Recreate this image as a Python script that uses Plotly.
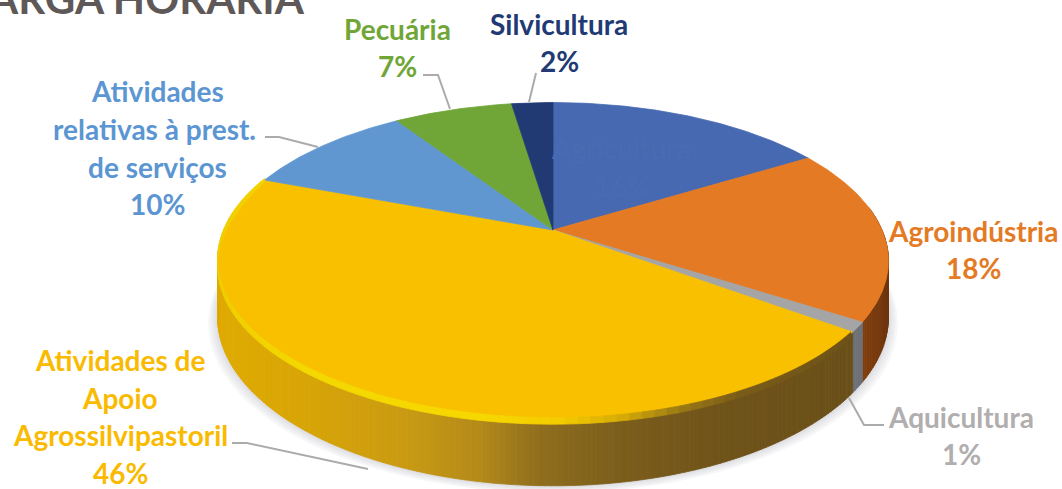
import numpy as np
import plotly.graph_objects as go

# ---- data ----
categories = ["Agricultura", "Agroindústria", "Aquicultura",
              "Atividades de Apoio Agrossilvipastoril",
              "Atividades relativas à prest. de serviços",
              "Pecuária", "Silvicultura"]
values = [16.3, 17.8, 1.0, 45.6, 10.0, 6.9, 2.4]
colors = ["#4669B1", "#E57A25", "#A5A5A5", "#F9C000", "#6097D1", "#70A637", "#213A74"]
title_text = "ARGA HORÁRIA"

# (text, colour, centre x, centre y) per label line
label_lines = [
    ("Pecuária", "#70A637", 397, 29), ("7%", "#70A637", 397, 66),
    ("Silvicultura", "#213A74", 559, 24), ("2%", "#213A74", 559, 61),
    ("Atividades", "#5B96D2", 157, 91), ("relativas à prest.", "#5B96D2", 154, 129),
    ("de serviços", "#5B96D2", 157, 167), ("10%", "#5B96D2", 157, 204),
    ("Agroindústria", "#E57A25", 973, 231), ("18%", "#E57A25", 973, 268),
    ("Aquicultura", "#B0AEAE", 961, 417), ("1%", "#B0AEAE", 961, 454),
    ("Atividades de", "#F9BA00", 120, 360), ("Apoio", "#F9BA00", 120, 398),
    ("Agrossilvipastoril", "#F9BA00", 120, 435), ("46%", "#F9BA00", 120, 473),
    ("Agricultura", "#486BB2", 621, 148), ("16%", "#486BB2", 621, 186),
]
# leader lines: elbow path per label, in page pixels
leaders = [
    [(423, 75), (438, 75), (450, 109)],
    [(536, 73), (529, 102)],
    [(265, 137), (279, 137), (318, 147)],
    [(884, 425), (864, 425), (849, 398)],
    [(232, 443), (247, 443), (368, 469)],
]

# ---- pie geometry ----
CX, CY = 553, 230
K = 0.195
A = 329.0
B = 152.3
D = 52.0


def top_xy(theta, scale=1.0):
    x, y = np.sin(theta) * scale, -np.cos(theta) * scale
    w = 1 - K * y
    return CX + A * x / w, CY + B * y / w


def depth(theta):
    y = -np.cos(theta)
    return D / (1 - K * y) + 2


def low_xy(theta):
    x, y = top_xy(theta)
    return x, y + depth(theta)


def hex2rgb(h):
    return np.array([int(h[i:i + 2], 16) for i in (1, 3, 5)], float)


def ramp(x, stops):
    xs = [s[0] for s in stops]
    rgb = [np.interp(x, xs, [hex2rgb(s[1])[c] for s in stops]) for c in range(3)]
    return "rgb(%d,%d,%d)" % tuple(rgb)


side_yellow = [(214, "#E0AB00"), (300, "#D9A606"), (400, "#CB9C12"), (480, "#B48A1A"),
               (540, "#8F6E1E"), (620, "#7C5E1C"), (720, "#70541A"), (860, "#6A4F18")]
side_orange = [(850, "#8E4611"), (885, "#70350C")]
rim_yellow = [(214, "#F0CE00"), (300, "#F5D800"), (480, "#F7D900"), (560, "#F4CC00"),
              (620, "#D8AC08"), (680, "#9A7A14"), (740, "#7A5C1A"), (860, "#6E5218")]

shares = np.array(values) / sum(values)
edges = np.concatenate([[0], np.cumsum(shares)]) * 2 * np.pi

fig = go.Figure()


def poly(xs, ys, color):
    fig.add_trace(go.Scatter(x=list(xs), y=list(ys), mode="lines", fill="toself",
                             fillcolor=color, line=dict(color=color, width=0.8),
                             hoverinfo="skip", showlegend=False))


# soft shadow beneath the pie
th = np.linspace(np.pi * 0.45, np.pi * 1.6, 120)
for grow in (9, 7, 5, 3, 1.5):
    lx, ly = low_xy(th)
    sx = CX + (lx - CX) * (1 + grow / 336)
    sy = ly + grow * 0.75
    poly(sx, sy, "rgba(175,178,190,0.09)")

# side wall
for i, (cat, col) in enumerate(zip(categories, colors)):
    a0, a1 = edges[i], edges[i + 1]
    n = max(3, int((a1 - a0) / 0.014))
    ts = np.linspace(a0, a1, n + 1)
    for t0, t1 in zip(ts[:-1], ts[1:]):
        tm = (t0 + t1) / 2
        if -np.cos(tm) < -0.15:
            continue
        xm = top_xy(tm)[0]
        if cat == "Atividades de Apoio Agrossilvipastoril":
            shade = ramp(xm, side_yellow)
        elif cat == "Agroindústria":
            shade = ramp(xm, side_orange)
        elif cat == "Aquicultura":
            shade = "#6E7278"
        else:
            shade = ramp(0.5, [(0, col), (1, "#000000")])
        x0, y0 = top_xy(t0); x1, y1 = top_xy(t1)
        x2, y2 = low_xy(t1); x3, y3 = low_xy(t0)
        poly([x0, x1, x2, x3, x0], [y0, y1, y2, y3, y0], shade)

# top face
for a0, a1, col in zip(edges[:-1], edges[1:], colors):
    ts = np.linspace(a0, a1, max(6, int((a1 - a0) / 0.01)))
    px, py = top_xy(ts)
    poly(np.r_[CX, px, CX], np.r_[CY, py, CY], col)

# bevel highlight on the front of the largest slice
i = categories.index("Atividades de Apoio Agrossilvipastoril")
ts = np.linspace(edges[i] + 0.01, edges[i + 1], 90)
for t0, t1 in zip(ts[:-1], ts[1:]):
    tm = (t0 + t1) / 2
    xm, _ = top_xy(tm)
    x0, y0 = top_xy(t0); x1, y1 = top_xy(t1)
    h0 = 5 * max(0, min(1, (-np.cos(t0) + 0.45) / 0.3))
    h1 = 5 * max(0, min(1, (-np.cos(t1) + 0.45) / 0.3))
    poly([x0, x1, x1, x0, x0], [y0 - 1.5, y1 - 1.5, y1 + h1, y0 + h0, y0 - 1.5], ramp(xm, rim_yellow))

annotations = [dict(x=x, y=y, text=t, xref="x", yref="y", showarrow=False,
                    xanchor="center", yanchor="middle",
                    font=dict(family="Lato", size=28, color=c, weight="bold"))
               for t, c, x, y in label_lines]
annotations.append(dict(x=306, y=24, text=title_text, xref="x", yref="y", showarrow=False,
                        xanchor="right", yanchor="bottom", borderpad=0,
                        font=dict(family="Lato", size=42, color="#5F5858", weight="bold")))

shapes = [dict(type="path", xref="x", yref="y",
               path="M" + " L".join(f"{x},{y}" for x, y in pts),
               line=dict(color="#ABABAB", width=2), fillcolor="rgba(0,0,0,0)")
          for pts in leaders]

fig.update_layout(
    width=1062, height=489, margin=dict(l=0, r=0, t=0, b=0),
    paper_bgcolor="white", plot_bgcolor="white", showlegend=False,
    xaxis=dict(range=[0, 1062], visible=False, fixedrange=True),
    yaxis=dict(range=[489, 0], visible=False, fixedrange=True),
    annotations=annotations, shapes=shapes,
)
fig.write_html("out.html", config={"displayModeBar": False},
               post_script="document.body.style.margin='0';document.documentElement.style.overflow='hidden';")
